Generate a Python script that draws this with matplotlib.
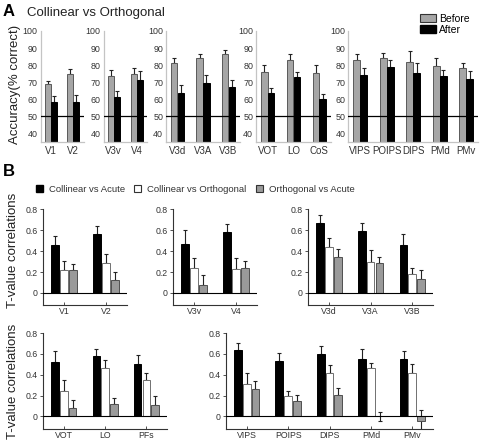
import numpy as np
import matplotlib.pyplot as plt
from matplotlib.patches import Patch

plt.rcParams['font.family'] = ['Liberation Sans', 'DejaVu Sans']

# ----------------------------------------------------------------------
# data, panel A (accuracy before / after)
# ----------------------------------------------------------------------
a_regions = ["V1", "V2", "V3v", "V4", "V3d", "V3A", "V3B",
             "VOT", "LO", "CoS", "VIPS", "POIPS", "DIPS", "PMd", "PMv"]
a_before = [69, 75, 73.5, 75, 81.5, 84, 86.5, 76, 83, 75.5, 83, 84, 82, 79.5, 78]
a_before_err = [1.5, 2.5, 3.5, 3.5, 2.5, 2.5, 2.5, 4, 3.5, 4.5, 3.5, 3, 6, 4.5, 3]
a_after = [58.5, 58.5, 61, 71.5, 63.5, 69.5, 67, 63.5, 73, 60, 74, 79, 75.5, 73.5, 72]
a_after_err = [3.5, 4, 3.5, 5, 4.5, 4.5, 4, 3, 3, 3, 4, 4, 5.5, 3.5, 4.5]
a_split = [2, 2, 3, 3, 5]

# ----------------------------------------------------------------------
# data, panel B (T-value correlations)
# ----------------------------------------------------------------------
b_regions = ["V1", "V2", "V3v", "V4", "V3d", "V3A", "V3B",
             "VOT", "LO", "PFs", "VIPS", "POIPS", "DIPS", "PMd", "PMv"]
b_coll_acute = [0.454, 0.562, 0.467, 0.587, 0.671, 0.59, 0.461,
                0.518, 0.58, 0.502, 0.64, 0.528, 0.596, 0.554, 0.547]
b_coll_acute_err = [0.092, 0.076, 0.136, 0.07, 0.071, 0.078, 0.1,
                    0.11, 0.068, 0.084, 0.06, 0.081, 0.078, 0.094, 0.084]
b_coll_orth = [0.219, 0.289, 0.238, 0.229, 0.435, 0.30, 0.177,
               0.246, 0.463, 0.347, 0.314, 0.194, 0.415, 0.46, 0.418]
b_coll_orth_err = [0.086, 0.082, 0.095, 0.104, 0.094, 0.113, 0.065,
                   0.107, 0.077, 0.074, 0.10, 0.055, 0.081, 0.052, 0.084]
b_orth_acute = [0.219, 0.127, 0.079, 0.235, 0.348, 0.284, 0.132,
                0.084, 0.123, 0.11, 0.266, 0.146, 0.204, 0.0, -0.04]
b_orth_acute_err = [0.054, 0.073, 0.089, 0.067, 0.075, 0.064, 0.087,
                    0.075, 0.058, 0.09, 0.074, 0.061, 0.068, 0.045, 0.1]
b_split = [2, 2, 3, 3, 5]

# ----------------------------------------------------------------------
# layout (pixels of a 481x440 picture)
# ----------------------------------------------------------------------
W, H = 481, 440
fig = plt.figure(figsize=(W / 100, H / 100), dpi=100)


def px_axes(left, top, right, bottom):
    return fig.add_axes([left / W, 1 - bottom / H, (right - left) / W, (bottom - top) / H])


def err_bars(ax, x, y, err, color='#222'):
    y = np.asarray(y, dtype=float)
    err = np.asarray(err, dtype=float)
    lower = np.where(y < 0.05 * (ax.get_ylim()[1]), err, 0)  # two-sided near zero
    ax.errorbar(x, y, yerr=[lower, err], fmt='none', ecolor=color,
                elinewidth=0.8, capsize=1.6, capthick=0.8, zorder=1)


# ---------------------------- panel A ---------------------------------
a_boxes = [(40.5, 83.5), (103.5, 147), (166, 240), (256, 331), (348.3, 478.3)]
A_GREY = '#a6a6a6'
bw_a, off_a = 0.26, 0.135

start = 0
axes_a = []
for (l, r), n in zip(a_boxes, a_split):
    ax = px_axes(l, 31, r, 141.7)
    sl = slice(start, start + n)
    x = np.arange(n)
    ax.set_ylim(35, 100)
    ax.set_xlim(-0.45, n - 0.55)
    ax.bar(x - off_a, a_before[sl], width=bw_a, color=A_GREY,
           edgecolor='#5a5a5a', linewidth=0.7, zorder=2)
    ax.bar(x + off_a, a_after[sl], width=bw_a, color='black',
           edgecolor='black', linewidth=0.7, zorder=2)
    ax.errorbar(x - off_a, a_before[sl], yerr=[np.zeros(n), a_before_err[sl]],
                fmt='none', ecolor='#222', elinewidth=0.8, capsize=1.6,
                capthick=0.8, zorder=1)
    ax.errorbar(x + off_a, a_after[sl], yerr=[np.zeros(n), a_after_err[sl]],
                fmt='none', ecolor='#222', elinewidth=0.8, capsize=1.6,
                capthick=0.8, zorder=1)
    ax.axhline(50, color='black', lw=0.9, zorder=3)
    ax.set_yticks(range(40, 101, 10))
    ax.set_xticks(x)
    ax.set_xticklabels(a_regions[sl])
    for s in ['top', 'right']:
        ax.spines[s].set_visible(False)
    for s in ['left', 'bottom']:
        ax.spines[s].set_color('#c4c4c4')
        ax.spines[s].set_linewidth(0.9)
    ax.tick_params(axis='y', length=0, labelsize=6.4, colors='#333', pad=2)
    ax.tick_params(axis='x', length=0, labelsize=7, colors='#333', pad=3)
    axes_a.append(ax)
    start += n

axes_a[-1].legend([Patch(facecolor=A_GREY, edgecolor='#333', lw=0.8),
                   Patch(facecolor='black', edgecolor='black')],
                  ['Before', 'After'], loc='upper right',
                  bbox_to_anchor=(470 / W, 1 - 14 / H),
                  bbox_transform=fig.transFigure, frameon=False, fontsize=7.5,
                  handlelength=1.6, handleheight=0.8, labelspacing=0.1,
                  handletextpad=0.3, borderaxespad=0, borderpad=0)

fig.text(3 / W, 1 - 12 / H, 'A', fontsize=12, fontweight='bold', va='center')
fig.text(27 / W, 1 - 13 / H, 'Collinear vs Orthogonal', fontsize=9.5,
         color='#222', va='center')
fig.text(15 / W, 1 - 84 / H, 'Accuracy(% correct)', fontsize=9.5, rotation=90,
         va='center', ha='center', color='#222')

# ---------------------------- panel B ---------------------------------
b_boxes = [(43.3, 209.3, 127, 305), (173.3, 209.3, 256.7, 305), (308.3, 209.3, 433, 305),
           (43.3, 333, 167, 428.5), (226, 333, 433, 428.5)]
B_GREY = '#9a9a9a'
bw_b, off_b = 0.185, 0.212

start = 0
for box, n in zip(b_boxes, b_split):
    ax = px_axes(*box)
    sl = slice(start, start + n)
    x = np.arange(n)
    ax.set_ylim(-0.115, 0.8)
    ax.set_xlim(-0.5, n - 0.5)
    ax.bar(x - off_b, b_coll_acute[sl], width=bw_b, color='black',
           edgecolor='black', linewidth=0.7, zorder=2)
    ax.bar(x, b_coll_orth[sl], width=bw_b, color='white',
           edgecolor='#707070', linewidth=0.7, zorder=2)
    ax.bar(x + off_b, b_orth_acute[sl], width=bw_b, color=B_GREY,
           edgecolor='#505050', linewidth=0.7, zorder=2)
    err_bars(ax, x - off_b, b_coll_acute[sl], b_coll_acute_err[sl])
    err_bars(ax, x, b_coll_orth[sl], b_coll_orth_err[sl])
    err_bars(ax, x + off_b, b_orth_acute[sl], b_orth_acute_err[sl])
    ax.axhline(0, color='black', lw=0.8, zorder=3)
    ax.set_yticks([0, 0.2, 0.4, 0.6, 0.8])
    ax.set_yticklabels(['0', '0.2', '0.4', '0.6', '0.8'])
    ax.set_xticks(x)
    ax.set_xticklabels(b_regions[sl])
    for s in ['top', 'right']:
        ax.spines[s].set_visible(False)
    for s in ['left', 'bottom']:
        ax.spines[s].set_color('#333')
        ax.spines[s].set_linewidth(0.8)
    ax.tick_params(axis='y', length=2, width=0.6, labelsize=6.3, colors='#333', pad=2)
    ax.tick_params(axis='x', direction='in', length=2.5, width=0.6,
                   labelsize=6.3, colors='#333', pad=1.5)
    start += n

fig.legend([Patch(facecolor='black', edgecolor='black'),
            Patch(facecolor='white', edgecolor='#333', lw=0.8),
            Patch(facecolor=B_GREY, edgecolor='#333', lw=0.8)],
           ['Collinear vs Acute', 'Collinear vs Orthogonal', 'Orthogonal vs Acute'],
           loc='center left', bbox_to_anchor=(36 / W, 1 - 189 / H), ncol=3,
           frameon=False, fontsize=6.8, handlelength=0.75, handleheight=0.75,
           handletextpad=0.6, columnspacing=1.0, borderpad=0, borderaxespad=0,
           labelcolor='#333')

fig.text(3 / W, 1 - 172 / H, 'B', fontsize=12, fontweight='bold', va='center')
fig.text(13 / W, 1 - 250 / H, 'T-value correlations', fontsize=9.5, rotation=90,
         va='center', ha='center', color='#222')
fig.text(13 / W, 1 - 381 / H, 'T-value correlations', fontsize=9.5, rotation=90,
         va='center', ha='center', color='#222')

fig.savefig('out.png', dpi=100)
